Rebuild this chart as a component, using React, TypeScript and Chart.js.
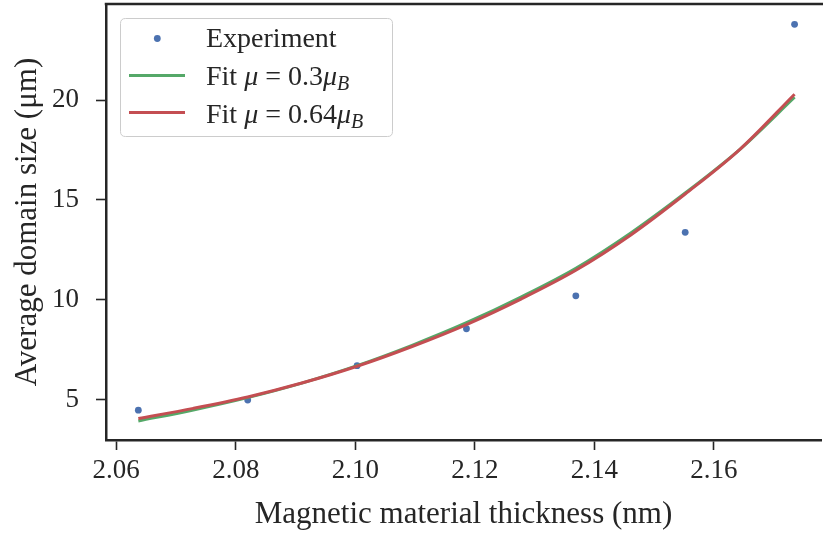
import React, { useEffect, useRef } from "react";
import { Chart, registerables } from "chart.js";

Chart.register(...registerables);

// ---- data ----
const expX = [2.0637, 2.082, 2.1003, 2.1186, 2.1369, 2.1552, 2.1735];
const expY = [4.47, 4.98, 6.7, 8.55, 10.2, 13.38, 23.8];

const fitX = [2.0637, 2.0729, 2.082, 2.0912, 2.1003, 2.1095, 2.1186, 2.1278, 2.1369, 2.1461, 2.1552, 2.1644, 2.1735];
const fitGreenY = [3.93, 4.48, 5.1, 5.84, 6.7, 7.72, 8.85, 10.15, 11.58, 13.35, 15.35, 17.55, 20.15];
const fitRedY = [4.05, 4.56, 5.13, 5.84, 6.67, 7.66, 8.76, 10.05, 11.48, 13.25, 15.3, 17.55, 20.3];

const xTicks = [2.06, 2.08, 2.1, 2.12, 2.14, 2.16];
const yTicks = [5, 10, 15, 20];

const xLabel = "Magnetic material thickness (nm)";
const yLabel = "Average domain size (μm)";
const seriesNames = ["Experiment", "Fit μ = 0.3μB", "Fit μ = 0.64μB"];

const BLUE = "#4C72B0";
const GREEN = "#55A868";
const RED = "#C44E52";
const INK = "#262626";
const FONT = "'Liberation Serif', 'DejaVu Serif', serif";

type Part = { t: string; it?: boolean; sub?: boolean };
const legendParts: Part[][] = [
  [{ t: "Experiment" }],
  [{ t: "Fit " }, { t: "μ", it: true }, { t: " = 0.3" }, { t: "μ", it: true }, { t: "B", it: true, sub: true }],
  [{ t: "Fit " }, { t: "μ", it: true }, { t: " = 0.64" }, { t: "μ", it: true }, { t: "B", it: true, sub: true }],
];

const legendPlugin = {
  id: "mathLegend",
  afterDraw(chart: any) {
    const ctx = chart.ctx as CanvasRenderingContext2D;
    ctx.save();
    const bx = 120.5, by = 18.5, bw = 272, bh = 118, r = 5;
    ctx.beginPath();
    ctx.moveTo(bx + r, by);
    ctx.lineTo(bx + bw - r, by);
    ctx.quadraticCurveTo(bx + bw, by, bx + bw, by + r);
    ctx.lineTo(bx + bw, by + bh - r);
    ctx.quadraticCurveTo(bx + bw, by + bh, bx + bw - r, by + bh);
    ctx.lineTo(bx + r, by + bh);
    ctx.quadraticCurveTo(bx, by + bh, bx, by + bh - r);
    ctx.lineTo(bx, by + r);
    ctx.quadraticCurveTo(bx, by, bx + r, by);
    ctx.closePath();
    ctx.fillStyle = "rgba(255,255,255,0.8)";
    ctx.fill();
    ctx.strokeStyle = "#cccccc";
    ctx.lineWidth = 1;
    ctx.stroke();

    const markerY = [38.5, 75.5, 112.5];
    const baseY = [47, 85, 122.5];
    const colors = [BLUE, GREEN, RED];
    for (let i = 0; i < 3; i++) {
      if (i === 0) {
        ctx.beginPath();
        ctx.arc(157.3, markerY[i], 3.4, 0, Math.PI * 2);
        ctx.fillStyle = colors[i];
        ctx.fill();
      } else {
        ctx.beginPath();
        ctx.moveTo(129, markerY[i]);
        ctx.lineTo(185, markerY[i]);
        ctx.strokeStyle = colors[i];
        ctx.lineWidth = 3;
        ctx.lineCap = "butt";
        ctx.stroke();
      }
    }
    ctx.fillStyle = INK;
    ctx.textBaseline = "alphabetic";
    ctx.textAlign = "left";
    for (let i = 0; i < 3; i++) {
      let x = 206;
      for (const p of legendParts[i]) {
        const size = p.sub ? 20 : 28;
        ctx.font = `${p.it ? "italic " : ""}${size}px ${FONT}`;
        ctx.fillText(p.t, x, baseY[i] + (p.sub ? 5 : 0));
        x += ctx.measureText(p.t).width;
      }
    }
    ctx.restore();
  },
};

const topBorderPlugin = {
  id: "topBorder",
  afterDraw(chart: any) {
    const { ctx, chartArea } = chart;
    ctx.save();
    ctx.beginPath();
    ctx.moveTo(chartArea.left - 1.25, chartArea.top);
    ctx.lineTo(chartArea.right + 2, chartArea.top);
    ctx.strokeStyle = INK;
    ctx.lineWidth = 2.5;
    ctx.stroke();
    ctx.restore();
  },
};

export default function App() {
  const ref = useRef<HTMLCanvasElement | null>(null);

  useEffect(() => {
    if (!ref.current) return;
    const chart = new Chart(ref.current, {
      type: "scatter",
      data: {
        datasets: [
          {
            label: seriesNames[0],
            data: expX.map((x, i) => ({ x, y: expY[i] })),
            showLine: false,
            pointRadius: 3.4,
            pointBackgroundColor: BLUE,
            pointBorderWidth: 0,
            backgroundColor: BLUE,
            borderColor: BLUE,
            order: 3,
          },
          {
            label: seriesNames[1],
            data: fitX.map((x, i) => ({ x, y: fitGreenY[i] })),
            showLine: true,
            pointRadius: 0,
            borderColor: GREEN,
            backgroundColor: GREEN,
            borderWidth: 3,
            cubicInterpolationMode: "monotone",
            order: 2,
          },
          {
            label: seriesNames[2],
            data: fitX.map((x, i) => ({ x, y: fitRedY[i] })),
            showLine: true,
            pointRadius: 0,
            borderColor: RED,
            backgroundColor: RED,
            borderWidth: 3,
            cubicInterpolationMode: "monotone",
            order: 1,
          },
        ],
      },
      options: {
        animation: false,
        responsive: false,
        devicePixelRatio: 1,
        layout: { padding: { top: 4, right: 0, left: 0, bottom: 0 } },
        plugins: {
          legend: { display: false },
          tooltip: { enabled: false },
        },
        scales: {
          x: {
            type: "linear",
            min: 2.05829,
            max: 2.17792,
            afterBuildTicks: (s: any) => {
              s.ticks = xTicks.map((v) => ({ value: v }));
            },
            afterFit: (s: any) => {
              s.height = 93;
              s.paddingLeft = 0;
              s.paddingRight = 0;
            },
            border: { display: true, color: INK, width: 2.5 },
            grid: {
              drawOnChartArea: false,
              drawTicks: true,
              tickLength: 10,
              tickWidth: 1.6,
              tickColor: INK,
            },
            ticks: {
              color: INK,
              font: { family: FONT, size: 27 },
              padding: 5,
              maxRotation: 0,
              callback: (v: any) => Number(v).toFixed(2),
            },
            title: {
              display: true,
              text: xLabel,
              color: INK,
              font: { family: FONT, size: 31 },
              padding: { top: 0, bottom: 0 },
            },
          },
          y: {
            type: "linear",
            min: 2.975,
            max: 24.82,
            afterBuildTicks: (s: any) => {
              s.ticks = yTicks.map((v) => ({ value: v }));
            },
            afterFit: (s: any) => {
              s.width = 106;
              s.paddingTop = 0;
              s.paddingBottom = 0;
            },
            border: { display: true, color: INK, width: 2.5 },
            grid: {
              drawOnChartArea: false,
              drawTicks: true,
              tickLength: 10,
              tickWidth: 1.6,
              tickColor: INK,
            },
            ticks: {
              color: INK,
              font: { family: FONT, size: 27 },
              padding: 17,
              callback: (v: any) => String(v),
            },
            title: {
              display: true,
              text: yLabel,
              color: INK,
              font: { family: FONT, size: 31 },
              padding: { top: 9, bottom: 0 },
            },
          },
        },
      },
      plugins: [legendPlugin, topBorderPlugin],
    } as any);
    return () => chart.destroy();
  }, []);

  return (
    <div style={{ position: "fixed", left: 0, top: 0, width: 825, height: 533, overflow: "hidden", background: "#fff" }}>
      <canvas ref={ref} width={825} height={533} style={{ display: "block" }} />
    </div>
  );
}
